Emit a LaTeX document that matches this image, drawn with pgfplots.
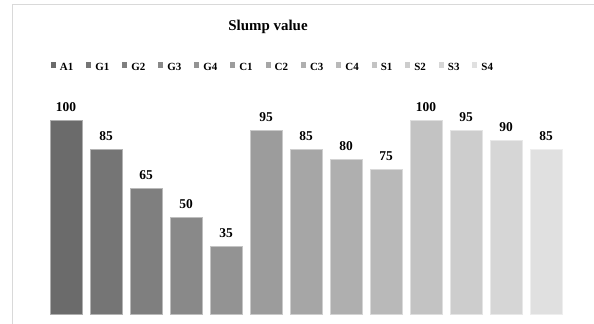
\documentclass[border=0pt]{standalone}
\usepackage{fontspec}
\setmainfont{Liberation Serif}
\usepackage{pgfplots}
\pgfplotsset{compat=1.18}

% grey ramp, darkest to lightest
\definecolor{cA1}{HTML}{6B6B6B}
\definecolor{cG1}{HTML}{757575}
\definecolor{cG2}{HTML}{7F7F7F}
\definecolor{cG3}{HTML}{898989}
\definecolor{cG4}{HTML}{939393}
\definecolor{cC1}{HTML}{9C9C9C}
\definecolor{cC2}{HTML}{A6A6A6}
\definecolor{cC3}{HTML}{AFAFAF}
\definecolor{cC4}{HTML}{B9B9B9}
\definecolor{cS1}{HTML}{C3C3C3}
\definecolor{cS2}{HTML}{CDCDCD}
\definecolor{cS3}{HTML}{D6D6D6}
\definecolor{cS4}{HTML}{E0E0E0}
\definecolor{frame}{HTML}{D9D9D9}

\pgfplotsset{
  sbar/.style={fill=#1, draw=#1!55!white, line width=0.6bp},
}

\begin{document}
\begin{tikzpicture}
\useasboundingbox (0,0) rectangle (594bp,324bp);
% chart frame
\draw[frame, line width=1bp] (12bp,0) -- (12bp,319bp) -- (594bp,319bp);
% title
\node[anchor=base, font=\fontsize{15}{18}\selectfont\bfseries] at (268bp,293bp) {Slump value};
\begin{axis}[
  at={(46bp,10bp)}, anchor=south west,
  scale only axis,
  width=540bp, height=212.6bp,
  xmin=-0.5, xmax=13, ymin=0, ymax=110,
  axis lines=none,
  ybar, bar width=32bp, bar shift=0pt,
  nodes near coords,
  /pgf/number format/assume math mode=true,
  every node near coord/.append style={font=\fontsize{13.5}{15}\selectfont\bfseries, text=black, inner sep=0pt, anchor=south, yshift=8.5bp},
  clip=false,
  legend columns=13,
  legend style={at={(axis description cs:0.4204,1.16)}, anchor=center, draw=none, fill=none,
    font=\fontsize{11}{13}\selectfont\bfseries, inner sep=0pt,
    /tikz/every odd column/.append style={column sep=2bp},
    /tikz/every even column/.append style={column sep=11bp}},
  legend image code/.code={\fill[#1,draw=none] (0bp,-0.3bp) rectangle (5bp,4.9bp);},
]
\addplot[sbar=cA1] coordinates {(0,100)};
\addplot[sbar=cG1] coordinates {(1,85)};
\addplot[sbar=cG2] coordinates {(2,65)};
\addplot[sbar=cG3] coordinates {(3,50)};
\addplot[sbar=cG4] coordinates {(4,35)};
\addplot[sbar=cC1] coordinates {(5,95)};
\addplot[sbar=cC2] coordinates {(6,85)};
\addplot[sbar=cC3] coordinates {(7,80)};
\addplot[sbar=cC4] coordinates {(8,75)};
\addplot[sbar=cS1] coordinates {(9,100)};
\addplot[sbar=cS2] coordinates {(10,95)};
\addplot[sbar=cS3] coordinates {(11,90)};
\addplot[sbar=cS4] coordinates {(12,85)};
\legend{A1,G1,G2,G3,G4,C1,C2,C3,C4,S1,S2,S3,S4}
\end{axis}
\end{tikzpicture}
\end{document}
